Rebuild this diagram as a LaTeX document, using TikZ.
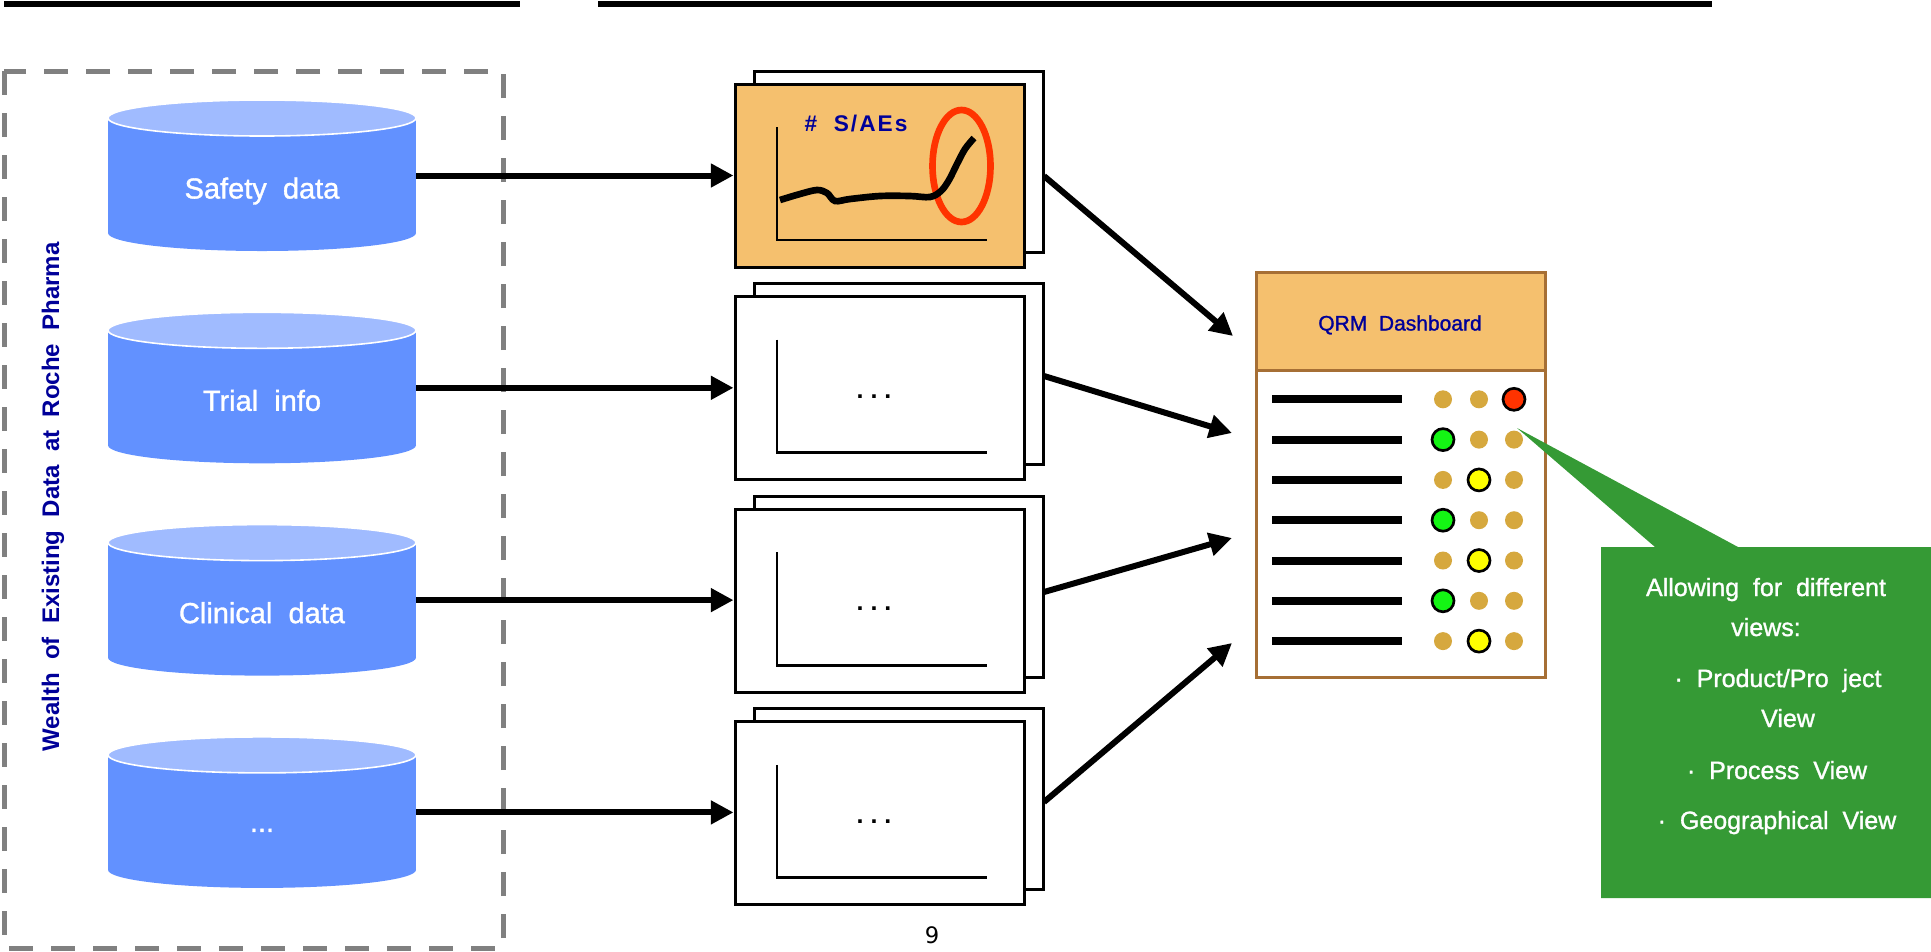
\documentclass[tikz,border=0pt]{standalone}
\usepackage{fontspec}
\setmainfont{Liberation Sans}
\newfontfamily\saesfont{Liberation Sans}[LetterSpace=9]
\newfontfamily\medfont{Liberation Sans}[FakeBold=1.2]
\newfontfamily\djvfont{DejaVu Sans}
\usetikzlibrary{arrows.meta}
\definecolor{cylbody}{RGB}{98,145,255}
\definecolor{cyltop}{RGB}{160,187,255}
\definecolor{chartorange}{RGB}{245,192,110}
\definecolor{dblue}{RGB}{0,0,153}
\definecolor{brownb}{RGB}{166,111,53}
\definecolor{gold}{RGB}{214,168,62}
\definecolor{greenbox}{RGB}{53,154,53}
\definecolor{redc}{RGB}{255,51,0}
\definecolor{greenc}{RGB}{20,245,20}
\definecolor{yellowc}{RGB}{255,255,0}
\definecolor{grayd}{RGB}{128,128,128}
\begin{document}
\begin{tikzpicture}[x=0.75pt,y=-0.75pt,
  arr/.style={line width=4.5pt,-{Triangle[length=17pt,width=17pt]}},
  chartfront/.style={draw=black,line width=2.25pt,minimum width=216.75pt,minimum height=137.25pt,inner sep=0pt},
  chartback/.style={draw=black,fill=white,line width=2.25pt,minimum width=216.75pt,minimum height=135.75pt,inner sep=0pt},
  axisline/.style={line width=2pt},
  cylbox/.style={minimum width=231pt,minimum height=113.25pt,inner sep=0pt},
  cyltext/.style={anchor=base,text=white,font=\medfont\fontsize{21.75}{26}\selectfont},
  dotstext/.style={anchor=base,font=\bfseries\fontsize{18.75}{22}\selectfont},
  rowline/.style={line width=6pt},
  lamp/.style={draw=black,line width=2pt},
  gtext/.style={anchor=base,text=white,font=\medfont\fontsize{18.75}{22}\selectfont},
  panel/.style={draw=brownb,line width=2.25pt,minimum width=216.75pt,inner sep=0pt}
]
\useasboundingbox (0,0) rectangle (1931,951);

% top rules
\draw[line width=4.5pt] (4,3.5) -- (520,3.5);
\draw[line width=4.5pt] (598,3.5) -- (1712,3.5);

% dashed frame
\draw[grayd,line width=3.75pt,dash pattern=on 18pt off 13.5pt] (4,71) rectangle (503,948);

% vertical label
\node[anchor=base,rotate=90,text=dblue,font=\bfseries\fontsize{18}{21}\selectfont] (wealth) at (59,497)
  {Wealth~ of~ Existing~ Data~ at~ Roche~ Pharma};

% cylinders
\foreach \i/\lab in {0/{Safety~ data},1/{Trial~ info},2/{Clinical~ data}} {
  \pgfmathsetmacro\T{100+212.3*\i}
  \fill[cylbody] (108,\T+18) rectangle (416,\T+133);
  \fill[cylbody] (262,\T+133) ellipse[x radius=154,y radius=18];
  \filldraw[fill=cyltop,draw=white,line width=1.2pt] (262,\T+18) ellipse[x radius=154,y radius=18];
  \node[cylbox] (cyl\i) at (262,\T+75.5) {};
  \node[cyltext] (cyllab\i) at (262,\T+98.5) {\lab};
}
\pgfmathsetmacro\T{100+212.3*3}
\fill[cylbody] (108,\T+18) rectangle (416,\T+133);
\fill[cylbody] (262,\T+133) ellipse[x radius=154,y radius=18];
\filldraw[fill=cyltop,draw=white,line width=1.2pt] (262,\T+18) ellipse[x radius=154,y radius=18];
\node[cylbox] (cyl3) at (262,\T+75.5) {};
\node[cyltext] (cyllab3) at (262,\T+95) {...};

% charts
\foreach \i/\fc in {0/chartorange,1/white,2/white,3/white} {
  \pgfmathsetmacro\T{84+212.6*\i}
  \node[chartback] (back\i) at (898.5,\T+77.5) {};
  \node[chartfront,fill=\fc] (chart\i) at (879.5,\T+91.5) {};
  \draw[axisline] (777,\T+43) -- (777,\T+156) -- (987,\T+156);
}
\foreach \i in {1,2,3} {
  \pgfmathsetmacro\T{84+212.6*\i}
  \node[dotstext] (dots\i) at (874,\T+101.5) {.~.~.};
}
% S/AE chart content
\draw[redc,line width=5pt] (961.5,166) ellipse[x radius=29,y radius=56];
\draw[line width=5pt] plot[smooth,tension=0.55] coordinates
  {(780,200) (800,194) (817,190) (827,193) (835,201) (850,199) (880,196) (910,196) (930,197) (941,191) (949,180) (957,164) (965,149) (974,138)};
\node[anchor=base,text=dblue,font={\saesfont\bfseries\fontsize{17}{20}\selectfont}] (saes) at (856,131.5) {\#~ S/AEs};

% arrows cylinders -> charts
\foreach \i in {0,1,2,3} {
  \draw[arr] (cyl\i.east) -- (cyl\i.east -| chart\i.west);
}

% dashboard
\node[panel,fill=white,minimum height=303.75pt] (dash) at (1400.5,474.5) {};
\node[panel,fill=chartorange,minimum height=73.5pt,anchor=north] (hdr) at (dash.north) {};
\node[anchor=base,text=dblue,font=\medfont\fontsize{15.75}{18}\selectfont] (hdrtext) at (1400,330.5) {QRM~ Dashboard};

\foreach \k/\c/\lc in {0/2/redc,1/0/greenc,2/1/yellowc,3/0/greenc,4/1/yellowc,5/0/greenc,6/1/yellowc} {
  \pgfmathsetmacro\Y{399.3+40.3*\k}
  \draw[rowline] (1272,\Y) -- (1402,\Y);
  \foreach \j/\X in {0/1443,1/1479,2/1514} {
    \ifnum\j=\c\relax
      \filldraw[lamp,fill=\lc] (\X,\Y) circle[radius=11];
    \else
      \fill[gold] (\X,\Y) circle[radius=9];
    \fi
  }
}

% arrows charts -> dashboard
\coordinate (s0) at (1044,176);
\coordinate (s1) at (1044,376);
\coordinate (s2) at (1044,592);
\coordinate (s3) at (1044,802);
\coordinate (t0) at (1233,336);
\coordinate (t1) at (1232,433);
\coordinate (t2) at (1232,538);
\coordinate (t3) at (1232,643);
\foreach \i in {0,1,2,3} { \draw[arr] (s\i) -- (t\i); }

% callout
\fill[greenbox] (1601,547) -- (1655,547) -- (1517,428) -- (1738,547) -- (1931,547) -- (1931,898) -- (1601,898) -- cycle;
\node[gtext] (g1) at (1766,596) {Allowing~ for~ different};
\node[gtext] (g2) at (1766,636) {views:};
\node[gtext] (g3) at (1778,687) {·~ Product/Pro~ ject};
\node[gtext] (g4) at (1788,727) {View};
\node[gtext] (g5) at (1777,779) {·~ Process~ View};
\node[gtext] (g6) at (1777,829) {·~ Geographical~ View};

% page number
\node[anchor=base,font={\djvfont\fontsize{17}{20}\selectfont}] (pnum) at (932,943) {9};
\end{tikzpicture}
\end{document}
